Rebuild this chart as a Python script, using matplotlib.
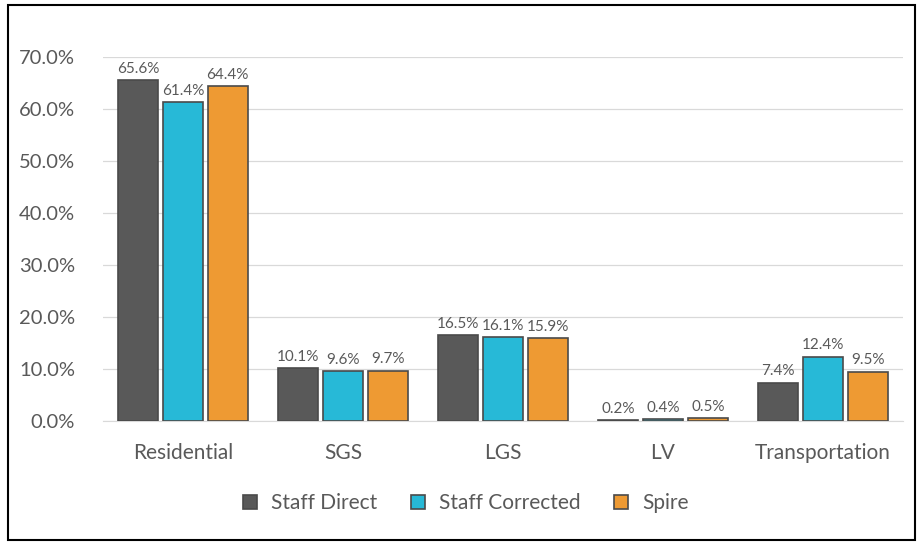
import matplotlib
matplotlib.use("Agg")
import matplotlib.pyplot as plt
import numpy as np
from matplotlib.patches import Rectangle

categories = ["Residential", "SGS", "LGS", "LV", "Transportation"]
series_names = ["Staff Direct", "Staff Corrected", "Spire"]
staff_direct = [65.6, 10.1, 16.5, 0.2, 7.4]
staff_corrected = [61.4, 9.6, 16.1, 0.4, 12.4]
spire = [64.4, 9.7, 15.9, 0.5, 9.5]
yticks = [0, 10, 20, 30, 40, 50, 60, 70]
colors = ["#595959", "#27B9D7", "#EE9A33"]

plt.rcParams['font.family'] = ['Lato', 'DejaVu Sans']
fig = plt.figure(figsize=(9.23, 5.45), dpi=100)
ax = fig.add_axes([103/923, 124/545, 800/923, (421-57)/545])

x = np.arange(len(categories))
w = 0.25
gap = 0.03
offsets = [-(w + gap), 0, (w + gap)]
for vals, col, name, off in zip([staff_direct, staff_corrected, spire], colors, series_names, offsets):
    ax.bar(x + off, vals, width=w, color=col, edgecolor="#4a4a4a", linewidth=1.2, label=name, zorder=3)
    for xi, v in zip(x + off, vals):
        ax.text(xi, v + 0.8, f"{v:.1f}%", ha="center", va="bottom", fontsize=11, color="#595959", clip_on=False)

ax.set_xlim(-0.5, len(categories) - 0.5)
ax.set_ylim(0, 70)
ax.set_yticks(yticks)
ax.set_yticklabels([f"{t:.1f}%" for t in yticks], fontsize=14.5, color="#595959")
ax.set_xticks(x)
ax.set_xticklabels(categories, fontsize=15, color="#595959")
ax.tick_params(axis="both", length=0)
ax.tick_params(axis="y", pad=20)
ax.tick_params(axis="x", pad=16)
ax.grid(axis="y", color="#D9D9D9", linewidth=0.9, zorder=0)
for s in ["top", "right", "left"]:
    ax.spines[s].set_visible(False)
ax.spines["bottom"].set_color("#D9D9D9")

leg = fig.legend(loc="center", bbox_to_anchor=(466/923, 1 - 503/545), ncol=3, frameon=False,
                 fontsize=15, handlelength=0.65, handleheight=0.65, columnspacing=1.6, handletextpad=0.7)
for t in leg.get_texts():
    t.set_color("#595959")

fig.patches.append(Rectangle((8/923, 5/545), 907/923, 535/545, transform=fig.transFigure,
                             fill=False, edgecolor="black", linewidth=1.5))
fig.savefig("out.png", dpi=100)
